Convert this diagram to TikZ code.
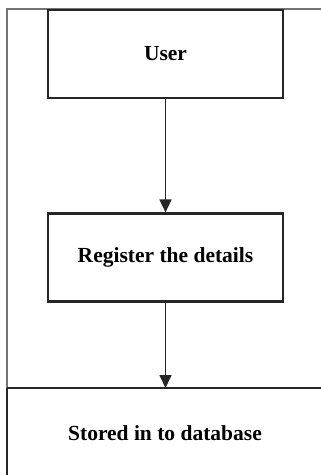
\documentclass[tikz,border=0pt]{standalone}
\usepackage{fontspec}
\setmainfont{Liberation Serif}
\usetikzlibrary{arrows.meta}
\begin{document}
\begin{tikzpicture}[x=1pt,y=-1pt,
  stage/.style={draw=black!85,line width=2.2pt,minimum width=235pt,minimum height=88pt,
    font=\fontsize{21.5}{24}\selectfont\bfseries,inner sep=0pt},
  frameline/.style={draw=black!55,line width=1.3pt},
  flow/.style={draw=black!85,line width=1.6pt,-{Triangle[length=13pt,width=12pt]}}]
  \useasboundingbox (0,0) rectangle (321,475);
  % outer frame
  \draw[frameline] (321,9) -- (7,9) -- (7,475);
  % process boxes
  \node[stage,fill=white] (user) at (165.5,54) {User};
  \node[stage] (reg) at (165.5,257.5) {Register the details};
  % storage area at the bottom
  \coordinate (dbtop) at (165.5,388);
  \draw[draw=black!85,line width=1.8pt] (7,388) -- (321,388);
  \draw[draw=black!85,line width=1.8pt] (7,388) -- (7,475);
  \node[font=\fontsize{21.5}{24}\selectfont\bfseries] (db) at (165,433) {Stored in to database};
  % connectors
  \draw[flow] (user) -- (reg);
  \draw[flow] (reg) -- (dbtop);
\end{tikzpicture}
\end{document}
